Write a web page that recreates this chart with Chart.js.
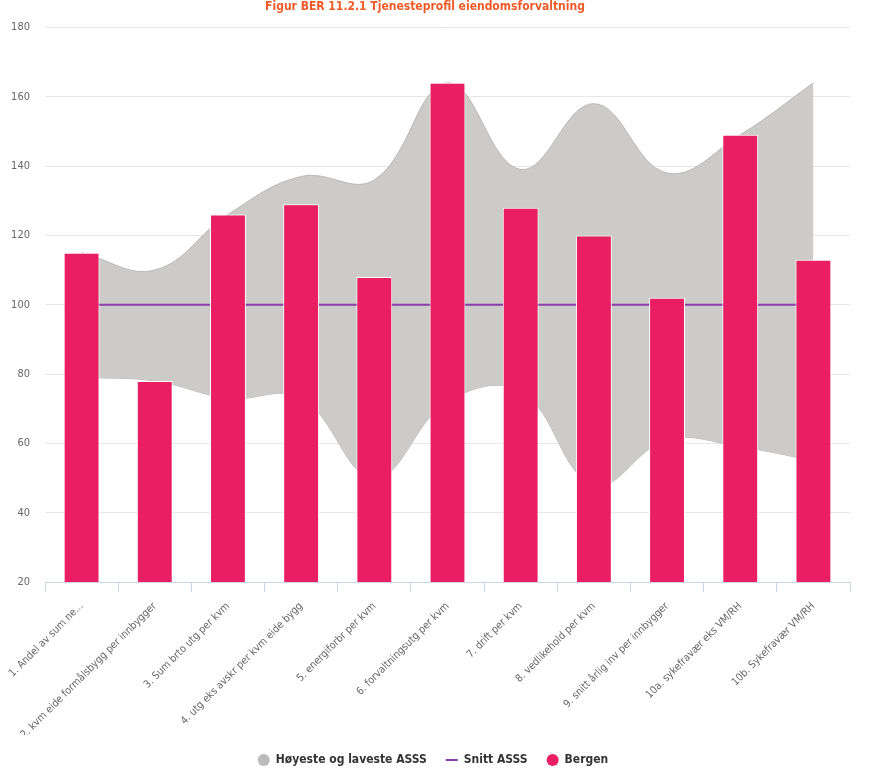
<!DOCTYPE html>
<html>
<head>
<meta charset="utf-8">
<script src="https://cdn.jsdelivr.net/npm/chart.js@4.4.1/dist/chart.umd.min.js"></script>
<style>
  html, body { margin: 0; padding: 0; background: #fff; }
  #wrap { width: 873px; height: 772px; }
</style>
</head>
<body>
<div id="wrap"><canvas id="chart"></canvas></div>
<script>
const categories = [
  "1. Andel av sum ne...",
  "2. kvm eide formålsbygg per innbygger",
  "3. Sum brto utg per kvm",
  "4. utg eks avskr per kvm eide bygg",
  "5. energiforbr per kvm",
  "6. forvaltningsutg per kvm",
  "7. drift per kvm",
  "8. vedlikehold per kvm",
  "9. snitt årlig inv per innbygger",
  "10a. sykefravær eks VM/RH",
  "10b. Sykefravær VM/RH"
];
const bergen = [115, 78, 126, 129, 108, 164, 128, 120, 102, 149, 113];
const snittAsss = [100, 100, 100, 100, 100, 100, 100, 100, 100, 100, 100];
const hoyeste = [115, 110, 126, 137, 136, 164, 139, 158, 138, 149, 164];
const laveste = [79, 78, 73, 73, 50, 72, 75, 48, 61, 59, 55];
const yTicks = [20, 40, 60, 80, 100, 120, 140, 160, 180];

const font = "'DejaVu Sans Condensed', 'DejaVu Sans', sans-serif";

// legend is centred on the full width in the original, not on the plot
const shiftLegend = {
  id: "shiftLegend",
  afterLayout(chart) {
    if (chart.legend) {
      chart.legend.left += 8;
      chart.legend.right += 8;
    }
  }
};

const ctx = document.getElementById("chart").getContext("2d");
new Chart(ctx, {
  type: "bar",
  data: {
    labels: categories,
    datasets: [
      {
        type: "bar",
        label: "Bergen",
        data: bergen,
        backgroundColor: "#e91e63",
        borderColor: "#ffffff",
        borderWidth: 1,
        barPercentage: 0.49,
        categoryPercentage: 1,
        order: 0
      },
      {
        type: "line",
        label: "Snitt ASSS",
        data: snittAsss,
        borderColor: "#8b3da8",
        backgroundColor: "#8b3da8",
        borderWidth: 2,
        pointRadius: 0,
        fill: false,
        order: 1
      },
      {
        type: "line",
        label: "Høyeste og laveste ASSS",
        data: hoyeste,
        borderColor: "#b8b8b8",
        backgroundColor: "#cccbca",
        borderWidth: 1,
        pointRadius: 0,
        tension: 0.4,
        fill: { target: 3 },
        order: 2
      },
      {
        type: "line",
        label: "laveste",
        data: laveste,
        borderColor: "#b8b8b8",
        backgroundColor: "#cccbca",
        borderWidth: 1,
        pointRadius: 0,
        tension: 0.4,
        fill: false,
        order: 3
      }
    ]
  },
  options: {
    responsive: true,
    maintainAspectRatio: false,
    animation: false,
    layout: { padding: { left: 0, right: 23, top: 0, bottom: -4 } },
    plugins: {
      title: {
        display: true,
        text: "Figur BER 11.2.1 Tjenesteprofil eiendomsforvaltning",
        color: "#f05a28",
        font: { family: font, size: 12, weight: "bold" },
        padding: { top: 0, bottom: 13 }
      },
      tooltip: { enabled: false },
      legend: {
        position: "bottom",
        labels: {
          usePointStyle: true,
          boxHeight: 8.5,
          boxWidth: 12,
          color: "#333333",
          font: { family: font, size: 12, weight: "bold" },
          padding: 19,
          generateLabels: () => [
            { text: "Høyeste og laveste ASSS", fillStyle: "#bbbbbb", strokeStyle: "#bbbbbb", lineWidth: 0, pointStyle: "circle", fontColor: "#333333" },
            { text: "Snitt ASSS", fillStyle: "#8b3da8", strokeStyle: "#8b3da8", lineWidth: 2, pointStyle: "line", fontColor: "#333333" },
            { text: "Bergen", fillStyle: "#e91e63", strokeStyle: "#e91e63", lineWidth: 0, pointStyle: "circle", fontColor: "#333333" }
          ]
        }
      }
    },
    scales: {
      x: {
        offset: true,
        grid: {
          offset: true,
          drawOnChartArea: false,
          drawTicks: true,
          tickLength: 10,
          color: "#ccd6eb"
        },
        border: { color: "#ccd6eb" },
        ticks: {
          autoSkip: false,
          maxRotation: 45,
          minRotation: 45,
          color: "#666666",
          font: { family: font, size: 10.5 },
          padding: 8
        },
        afterFit: s => { s.height = 153; s.paddingLeft = 0; s.paddingRight = 0; }
      },
      y: {
        min: 20,
        max: 180,
        afterBuildTicks: s => { s.ticks = yTicks.map(v => ({ value: v })); },
        grid: { color: "#e6e6e6", drawTicks: false },
        border: { display: false },
        ticks: {
          color: "#666666",
          font: { family: font, size: 11 },
          padding: 15
        },
        afterFit: s => { s.width = 45; }
      }
    }
  },
  plugins: [shiftLegend]
});
</script>
</body>
</html>
